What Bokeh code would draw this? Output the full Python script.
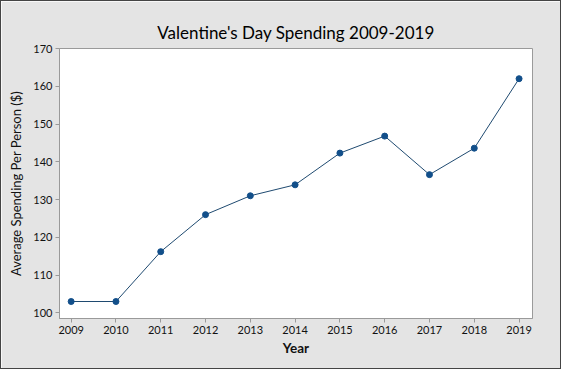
from bokeh.plotting import figure
from bokeh.embed import file_html
from bokeh.resources import INLINE
from bokeh.models import FixedTicker, Range1d

years = [2009, 2010, 2011, 2012, 2013, 2014, 2015, 2016, 2017, 2018, 2019]
spending = [103.0, 103.0, 116.2, 126.0, 131.0, 133.9, 142.3, 146.8, 136.6, 143.6, 162.0]
y_ticks = [100, 110, 120, 130, 140, 150, 160, 170]

FONT = "Lato"
BG = "#e4e4e4"

p = figure(width=561, height=369, output_backend="svg", toolbar_location=None,
           x_range=Range1d(2008.74, 2019.3), y_range=Range1d(98.5, 170.0),
           min_border_left=58, min_border_right=30, min_border_top=47, min_border_bottom=52,
           background_fill_color="white", border_fill_color=BG,
           title="Valentine's Day Spending 2009-2019")
p.styles = {"border": "1px solid #444"}
p.title.align = "center"
p.title.text_font = FONT
p.title.text_font_size = "17px"
p.title.text_font_style = "normal"
p.title.text_color = "#000000"
p.title.offset = 0
p.title.standoff = 12

p.outline_line_color = "#9a9a9a"
p.grid.visible = False

p.xaxis.ticker = FixedTicker(ticks=years)
p.yaxis.ticker = FixedTicker(ticks=y_ticks)
for ax in (p.xaxis, p.yaxis):
    ax.axis_line_color = "#9a9a9a"
    ax.major_tick_line_color = "#9a9a9a"
    ax.major_tick_out = 4
    ax.major_tick_in = 0
    ax.minor_tick_line_color = None
    ax.major_label_text_font = FONT
    ax.major_label_text_font_size = "11px"
    ax.major_label_text_color = "#111111"
    ax.major_label_standoff = 3
    ax.axis_label_text_font = FONT
    ax.axis_label_text_color = "#111111"

p.xaxis.axis_label = "Year"
p.xaxis.axis_label_text_font_size = "13.5px"
p.xaxis.axis_label_text_font_style = "bold"
p.xaxis.axis_label_standoff = 3
p.yaxis.axis_label = "Average Spending Per Person ($)"
p.yaxis.axis_label_text_font_size = "13px"
p.yaxis.axis_label_text_font_style = "normal"
p.yaxis.axis_label_standoff = 6

p.line(years, spending, line_color="#1f4a70", line_width=1)
p.scatter(years, spending, size=6, fill_color="#124f8a", line_color="#124f8a")

open("out.html", "w").write(file_html(p, INLINE))
